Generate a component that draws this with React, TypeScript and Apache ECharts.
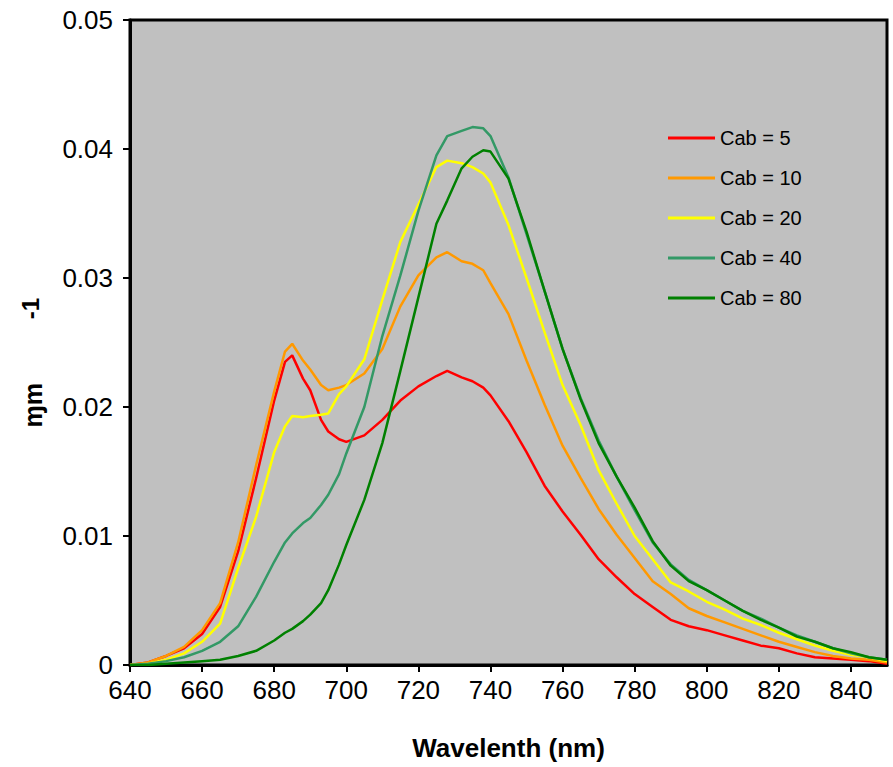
import React, { useEffect, useRef } from "react";
import * as echarts from "echarts";

const wavelengths = [640,645,650,655,660,665,670,675,680,683,685,688,690,693,695,698,700,705,710,715,720,725,728,732,735,738,740,745,750,755,760,765,770,775,780,785,790,795,800,805,810,815,820,825,830,835,840,845,850];

const cab5 = [0,0.0002,0.0007,0.0013,0.0024,0.0045,0.0088,0.0145,0.0205,0.0235,0.024,0.0222,0.0213,0.019,0.0181,0.0175,0.0173,0.0178,0.019,0.0205,0.0216,0.0224,0.0228,0.0223,0.022,0.0215,0.0209,0.0189,0.0165,0.0139,0.0119,0.0101,0.0082,0.0068,0.0055,0.0045,0.0035,0.003,0.0027,0.0023,0.0019,0.0015,0.0013,0.0009,0.0006,0.0005,0.0004,0.0003,0.0001];
const cab10 = [0,0.0002,0.0007,0.0014,0.0027,0.0048,0.0095,0.0155,0.0212,0.0243,0.0249,0.0236,0.0229,0.0217,0.0213,0.0215,0.0217,0.0226,0.0245,0.0278,0.0302,0.0316,0.032,0.0313,0.0311,0.0306,0.0296,0.0272,0.0236,0.0202,0.017,0.0145,0.0121,0.0101,0.0083,0.0065,0.0055,0.0044,0.0038,0.0033,0.0028,0.0023,0.0018,0.0014,0.001,0.0007,0.0005,0.0004,0.0002];
const cab20 = [0,0.0001,0.0004,0.0009,0.0018,0.0032,0.0075,0.0115,0.0165,0.0185,0.0193,0.0192,0.0193,0.0194,0.0195,0.021,0.0216,0.0237,0.0283,0.0328,0.0357,0.0386,0.0391,0.0389,0.0386,0.0381,0.0374,0.0341,0.03,0.0258,0.0217,0.0186,0.0151,0.0125,0.01,0.0082,0.0064,0.0057,0.0049,0.0043,0.0036,0.0031,0.0025,0.002,0.0015,0.0011,0.0008,0.0006,0.0003];
const cab40 = [0,0.0001,0.0003,0.0006,0.0011,0.0018,0.003,0.0053,0.008,0.0095,0.0102,0.011,0.0114,0.0124,0.0132,0.0148,0.0164,0.02,0.0255,0.0302,0.0352,0.0395,0.041,0.0414,0.0417,0.0416,0.041,0.0378,0.0334,0.029,0.0245,0.0207,0.0174,0.0146,0.012,0.0095,0.0078,0.0066,0.0058,0.005,0.0042,0.0036,0.0029,0.0023,0.0018,0.0013,0.0009,0.0006,0.0004];
const cab80 = [0,0,0.0001,0.0002,0.0003,0.0004,0.0007,0.0011,0.0019,0.0025,0.0028,0.0034,0.0039,0.0048,0.0058,0.0078,0.0093,0.0128,0.0172,0.0228,0.0285,0.0342,0.036,0.0385,0.0394,0.0399,0.0398,0.0377,0.0336,0.029,0.0245,0.0206,0.0172,0.0146,0.0122,0.0096,0.0077,0.0065,0.0058,0.005,0.0042,0.0035,0.0029,0.0022,0.0018,0.0013,0.001,0.0006,0.0004];

const seriesNames = ["Cab = 5", "Cab = 10", "Cab = 20", "Cab = 40", "Cab = 80"];
const seriesValues = [cab5, cab10, cab20, cab40, cab80];
const seriesColors = ["#ff0000", "#ff9900", "#ffff00", "#339966", "#008000"];

const xAxisTitle = "Wavelenth (nm)";

export default function App() {
  const ref = useRef<HTMLDivElement>(null);
  useEffect(() => {
    if (!ref.current) return;
    const chart = echarts.init(ref.current, null, { renderer: "svg" });
    const font = "Liberation Sans, Arial, sans-serif";
    chart.setOption({
      animation: false,
      backgroundColor: "#ffffff",
      grid: {
        left: 130,
        right: 6,
        top: 20,
        bottom: 102,
        show: true,
        backgroundColor: "#c0c0c0",
        borderColor: "#000000",
        borderWidth: 3,
      },
      legend: {
        orient: "vertical",
        left: 663,
        top: 123,
        icon: "rect",
        itemWidth: 47,
        itemHeight: 3,
        itemGap: 20,
        data: seriesNames,
        textStyle: { fontFamily: font, fontSize: 20, color: "#000" },
      },
      xAxis: {
        type: "value",
        min: 640,
        max: 850,
        interval: 20,
        name: xAxisTitle,
        nameLocation: "middle",
        nameGap: 70,
        nameTextStyle: { fontFamily: font, fontSize: 26, fontWeight: "bold", color: "#000" },
        axisLine: { lineStyle: { color: "#000", width: 3 } },
        axisTick: { show: true, length: 7, lineStyle: { color: "#000", width: 2 } },
        axisLabel: { fontFamily: font, fontSize: 26, color: "#000", margin: 12, showMaxLabel: false },
        splitLine: { show: false },
      },
      yAxis: {
        type: "value",
        min: 0,
        max: 0.05,
        interval: 0.01,
        axisLine: { show: true, lineStyle: { color: "#000", width: 3 } },
        axisTick: { show: true, length: 7, lineStyle: { color: "#000", width: 2 } },
        axisLabel: { fontFamily: font, fontSize: 26, color: "#000", margin: 17 },
        splitLine: { show: false },
      },
      graphic: [
        {
          type: "text",
          left: 20,
          top: 383,
          rotation: Math.PI / 2,
          style: { text: "ɱm", font: "bold 25px " + font, fill: "#000" },
        },
        {
          type: "text",
          left: 18,
          top: 298,
          rotation: Math.PI / 2,
          style: { text: "-1", font: "bold 24px " + font, fill: "#000" },
        },
      ],
      series: seriesNames.map((name, i) => ({
        name,
        type: "line",
        symbol: "none",
        smooth: false,
        data: wavelengths.map((w, j) => [w, seriesValues[i][j]]),
        lineStyle: { color: seriesColors[i], width: 2.5 },
        itemStyle: { color: seriesColors[i] },
      })),
    });
    return () => chart.dispose();
  }, []);
  return (
    <div
      ref={ref}
      style={{ position: "fixed", left: 0, top: 0, width: 893, height: 767 }}
    />
  );
}
